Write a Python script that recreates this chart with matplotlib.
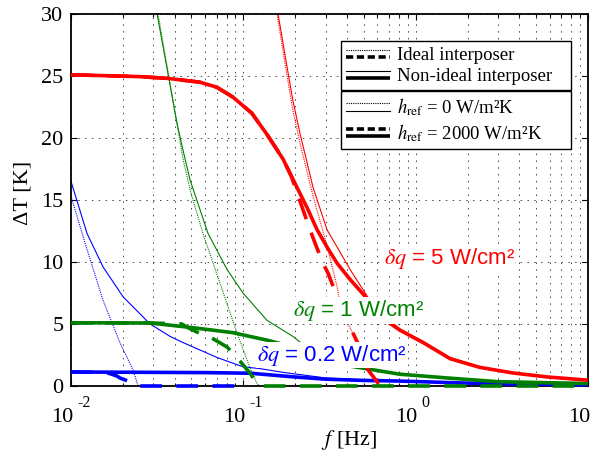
import numpy as np
import matplotlib
matplotlib.use('Agg')
import matplotlib.pyplot as plt
from matplotlib.lines import Line2D
from matplotlib.legend_handler import HandlerBase
from matplotlib.ticker import LogLocator, NullFormatter

plt.rcParams['font.family'] = 'serif'
plt.rcParams['font.serif'] = ['Liberation Serif', 'DejaVu Serif']
plt.rcParams['mathtext.fontset'] = 'stix'

###############################################################################
# Data
# dq = 5 W/cm2
f5_nid = [0.010, 0.025, 0.037, 0.056, 0.070, 0.087, 0.112, 0.137, 0.170, 0.205, 0.234, 0.268,
          0.306, 0.350, 0.416, 0.475, 0.543, 0.621, 0.811, 1.105, 1.585, 2.36, 3.67, 5.79, 10.0]
T5_nid = [25.1, 24.95, 24.8, 24.5, 24.1, 23.3, 22.0, 20.3, 18.3, 16.0, 14.4, 12.6,
          11.2, 9.9, 8.6, 7.7, 6.8, 5.6, 4.5, 3.5, 2.2, 1.5, 1.05, 0.73, 0.47]
f5_id = [0.010, 0.025, 0.037, 0.056, 0.070, 0.087, 0.112, 0.137, 0.170, 0.190, 0.222, 0.244,
         0.261, 0.290, 0.310, 0.350, 0.389, 0.475, 0.529, 0.605, 0.620]
T5_id = [25.1, 24.95, 24.8, 24.5, 24.1, 23.3, 22.0, 20.3, 18.3, 16.9, 14.2, 12.6,
         11.5, 9.9, 9.1, 7.2, 5.6, 3.1, 1.3, 0.24, 0.0]
f5_nid0 = [0.152, 0.159, 0.1795, 0.194, 0.213, 0.254, 0.306, 0.416, 0.543, 0.621, 0.811,
           1.105, 1.585, 2.36, 3.67, 5.79, 10.0]
T5_nid0 = [32.0, 30.0, 25.7, 23.0, 20.4, 16.0, 12.6, 9.4, 6.9, 5.9, 4.6,
           3.6, 2.3, 1.55, 1.08, 0.75, 0.49]
f5_id0 = [0.152, 0.159, 0.1795, 0.194, 0.213, 0.254, 0.306, 0.350, 0.364, 0.389, 0.475,
          0.529, 0.605, 0.620]
T5_id0 = [31.5, 29.5, 25.0, 22.2, 19.6, 15.3, 11.3, 8.0, 6.7, 5.5, 3.1,
          1.3, 0.24, 0.0]

# dq = 1 W/cm2
f1_nid = [0.010, 0.0288, 0.0511, 0.0871, 0.109, 0.137, 0.194, 0.234, 0.379, 0.811, 1.52,
          2.97, 7.18, 10.0]
T1_nid = [5.1, 5.08, 4.7, 4.3, 4.0, 3.7, 3.15, 2.95, 1.7, 0.95, 0.65,
          0.35, 0.24, 0.2]
f1_id = [0.010, 0.0288, 0.044, 0.0478, 0.0538, 0.0641, 0.0804, 0.0918, 0.109, 0.120, 0.125, 10.0]
T1_id = [5.1, 5.08, 5.0, 4.7, 4.35, 3.95, 3.15, 2.3, 1.05, 0.24, 0.0, 0.0]
f1_nid0 = [0.0295, 0.0316, 0.0412, 0.0447, 0.0491, 0.0624, 0.0804, 0.0995, 0.137, 0.194,
           0.234, 0.379, 0.811, 1.52, 2.97, 7.18, 10.0]
T1_nid0 = [32.0, 30.0, 21.2, 19.0, 16.6, 12.3, 9.4, 7.5, 5.3, 4.0,
           3.1, 1.8, 0.97, 0.67, 0.36, 0.25, 0.21]
f1_id0 = [0.030, 0.032, 0.0447, 0.0491, 0.0583, 0.0732, 0.0918, 0.109, 0.120, 0.125]
T1_id0 = [32.0, 30.0, 18.3, 15.8, 12.3, 8.3, 4.3, 1.5, 0.2, 0.0]

# dq = 0.2 W/cm2
f02_nid = [0.010, 0.030, 0.060, 0.110, 0.190, 0.300, 0.500, 0.800, 1.900, 4.0, 10.0]
T02_nid = [1.13, 1.1, 1.08, 1.03, 0.75, 0.55, 0.45, 0.4, 0.24, 0.15, 0.1]
f02_id = [0.010, 0.016, 0.0185, 0.0192, 0.0229, 0.0245, 0.100]
T02_id = [1.13, 1.1, 0.8, 0.65, 0.25, 0.0, 0.0]
f02_nid0 = [0.010, 0.01239, 0.01535, 0.02004, 0.02875, 0.0376, 0.0447, 0.0704, 0.0995, 0.125,
            0.170, 0.300, 0.500, 0.800, 1.900, 4.0, 10.0]
T02_nid0 = [16.5, 12.3, 9.6, 7.2, 5.0, 4.0, 3.5, 2.3, 1.55, 1.4,
            1.1, 0.65, 0.5, 0.42, 0.25, 0.16, 0.1]
f02_id0 = [0.010, 0.01239, 0.01535, 0.01923, 0.0229, 0.0245]
T02_id0 = [15.3, 11.0, 6.9, 3.5, 1.3, 0.0]

# Labels
dq_labels = [r'$\delta q$ = 0.2 W/cm²', r'$\delta q$ = 1 W/cm²', r'$\delta q$ = 5 W/cm²']
dq_pos = [[0.120, 2.5], [0.194, 6.1], [0.652, 10.3]]
xexp = ['-2', '-1', '0', '']   # exponent of the last label is cut off in the original
xdec = [0.01, 0.1, 1.0, 10.0]
yticks = [0, 5, 10, 15, 20, 25, 30]

###############################################################################
# Styles
colors = ['#0000ff', '#008000', '#ff0000']
thin = 0.8
thick = 2.6
st_nid0 = dict(lw=thin, ls='-')
st_id0 = dict(lw=thin, ls=(0, (1, 1)))
st_nid = dict(lw=thick, ls='-', solid_capstyle='butt')
st_id = dict(lw=thick, ls=(0, (6, 4)), dash_capstyle='butt')
st_id_leg = dict(lw=thick, ls=(0, (2, 1)), dash_capstyle='butt')

curves = [
    [f02_nid0, T02_nid0, f02_id0, T02_id0, f02_nid, T02_nid, f02_id, T02_id],
    [f1_nid0, T1_nid0, f1_id0, T1_id0, f1_nid, T1_nid, f1_id, T1_id],
    [f5_nid0, T5_nid0, f5_id0, T5_id0, f5_nid, T5_nid, f5_id, T5_id],
]

fig = plt.figure(figsize=(5.98, 4.54), dpi=100)
ax = fig.add_axes([71/598, 1 - 386/454, 517/598, 372/454])

for k in range(3):
    c = colors[k]
    d = curves[k]
    ax.plot(d[0], d[1], color=c, zorder=2, **st_nid0)
    ax.plot(d[2], d[3], color=c, zorder=2, **st_id0)
    ax.plot(d[4], d[5], color=c, zorder=3, clip_on=False, **st_nid)
    ax.plot(d[6], d[7], color=c, zorder=3, clip_on=False, **st_id)

for k in range(3):
    ax.text(dq_pos[k][0], dq_pos[k][1], dq_labels[k], color=colors[k], fontsize=16,
            family=['Liberation Sans', 'DejaVu Sans'], va='center', ha='left', zorder=4,
            bbox=dict(facecolor='white', edgecolor='none', pad=0.5))

ax.set_xscale('log')
ax.set_xlim(1e-2, 1e1)
ax.set_ylim(0, 30)
ax.set_yticks(yticks)
ax.xaxis.set_minor_locator(LogLocator(base=10, subs=np.arange(2, 10)))
ax.xaxis.set_major_formatter(NullFormatter())
ax.xaxis.set_minor_formatter(NullFormatter())
ax.tick_params(which='both', direction='in', top=True, right=True, width=0.8)
ax.tick_params(which='major', length=4.5, labelsize=16, pad=5.5)
ax.tick_params(which='minor', length=2.5)
for s in ax.spines.values():
    s.set_linewidth(1.3)

grid_style = dict(color='#444444', lw=0.7, ls=(0, (1.5, 5.5)))
ax.grid(True, which='both', axis='x', **grid_style)
ax.grid(True, which='major', axis='y', **grid_style)
ax.set_axisbelow(True)

# MATLAB style x tick labels
for x, e in zip(xdec, xexp):
    ax.annotate('10', xy=(x, 0), xycoords=('data', 'axes fraction'), xytext=(2, -36),
                textcoords='offset pixels', ha='right', va='baseline', fontsize=16,
                annotation_clip=False)
    if e:
        ax.annotate(e, xy=(x, 0), xycoords=('data', 'axes fraction'), xytext=(6, -21),
                    textcoords='offset pixels', ha='left', va='baseline', fontsize=11.5,
                    annotation_clip=False)

ax.set_ylabel('ΔT [K]', fontsize=16)
ax.yaxis.set_label_coords(-0.075, 0.52)
ax.set_xlabel(r'$f$ [Hz]', fontsize=16)
ax.xaxis.set_label_coords(0.538, -0.113)


# Legend handler drawing two stacked lines
class TwoLines(HandlerBase):
    def create_artists(self, legend, orig_handle, xdescent, ydescent, width, height, fontsize, trans):
        out = []
        for i, h in enumerate(orig_handle):
            y = height * (0.78 - 0.56 * i) - ydescent
            l = Line2D([-xdescent, width - xdescent], [y, y])
            l.update_from(h)
            l.set_transform(trans)
            out.append(l)
        return out


def mk(st):
    return Line2D([], [], color='k', **st)


leg_kw = dict(handler_map={tuple: TwoLines()}, loc='upper left', mode='expand',
              fontsize=13.5, frameon=True, fancybox=False, edgecolor='k', framealpha=1,
              borderaxespad=0, handlelength=2.3, handletextpad=0.4, labelspacing=0.2,
              borderpad=0.3)
leg1 = ax.legend([(mk(st_id0), mk(st_id_leg)), (mk(st_nid0), mk(st_nid))],
                 ['Ideal interposer', 'Non-ideal interposer'],
                 bbox_to_anchor=(0.522, 0.927, 0.445, 0), **leg_kw)
leg1.get_frame().set_linewidth(1.0)
ax.add_artist(leg1)
leg2 = ax.legend([(mk(st_id0), mk(st_nid0)), (mk(st_id_leg), mk(st_nid))],
                 [r'$h_{\rm ref}$ = 0 W/m²K', r'$h_{\rm ref}$ = 2000 W/m²K'],
                 bbox_to_anchor=(0.522, 0.793, 0.445, 0), **leg_kw)
leg2.get_frame().set_linewidth(1.0)

plt.savefig('out.png', dpi=100)
plt.close()
